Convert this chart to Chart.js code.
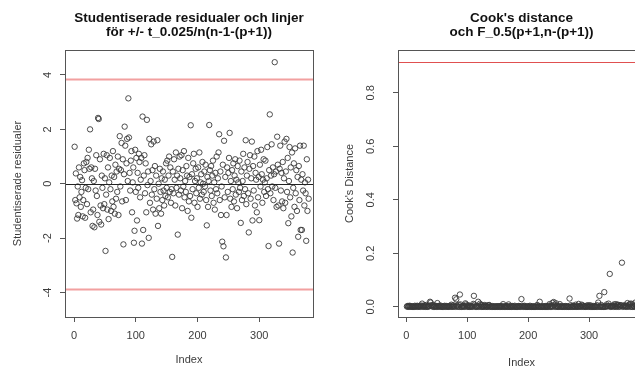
<!DOCTYPE html>
<html>
<head>
<meta charset="utf-8">
<script src="https://cdn.jsdelivr.net/npm/chart.js@4.4.1/dist/chart.umd.min.js"></script>
<style>
  html, body { margin: 0; padding: 0; background: #fff; overflow: hidden; width: 635px; height: 376px; }
  .panel { position: absolute; top: 0; }
</style>
</head>
<body>
<canvas id="residChart" class="panel" style="left:0" width="320" height="376"></canvas>
<canvas id="cookChart" class="panel" style="left:320px" width="330" height="376"></canvas>
<script>
// Studentized residuals, index 1..380
const residuals = [
    1.36, -0.6, 0.38, -0.72, -1.28, -0.1, -1.15, 0.6, -0.5, 0.25,
    -0.85, -0.3, 0.13, -1.2, -0.6, 0.75, 0.5, -1.25, -0.15, 0.8,
    -0.75, 0.95, -0.2, 1.25, 0.55, 2.0, -1.05, 0.6, 0.2, -1.55,
    -0.95, 0.1, -1.6, 0.55, -0.25, 1.05, -0.45, -1.15, 2.42, 2.38,
    -1.4, 0.9, -0.8, -1.5, 0.3, -0.15, -0.9, 1.1, -0.75, 0.2,
    -2.47, -0.4, 1.05, -0.95, 0.6, -1.3, 0.05, 0.95, -0.2, -1.0,
    0.3, -0.65, 1.2, -0.85, 0.25, -1.1, 0.7, -0.55, 0.45, -0.3,
    1.0, -1.15, 0.55, 1.75, -0.1, 0.5, 1.5, -0.65, 0.9, -2.23,
    0.35, 2.1, 1.4, -0.6, 0.75, 1.65, 0.1, 3.14, 1.7, 0.4,
    -0.25, 0.85, 1.2, -1.05, 0.05, 0.6, -2.17, -1.73, 1.25, -0.3,
    0.95, -1.35, 0.4, -0.15, 1.1, 0.8, -0.5, 0.15, 0.95, -2.2,
    2.47, -1.7, 0.3, 1.05, -0.35, 0.75, -1.05, 2.35, -0.05, 0.45,
    -1.99, 1.65, -0.7, 0.1, 1.45, -0.4, 0.5, -0.95, 1.55, -0.2,
    0.65, -1.1, 0.3, -0.55, 1.6, -1.55, 0.0, -0.9, 0.55, -0.3,
    -1.1, 0.2, -0.6, 0.45, -0.25, -0.8, 0.15, -0.45, 0.75, -0.15,
    0.85, -0.5, 0.3, 1.0, -0.3, 0.6, -0.7, -0.2, -2.69, 0.45,
    -0.35, 0.9, 0.15, -0.8, 1.15, -0.15, 0.3, -1.87, 0.55, -0.4,
    1.0, 0.2, -0.25, 1.05, -0.9, 0.5, -0.1, 1.2, -0.5, 0.1,
    -0.3, 0.65, 0.3, -1.0, 0.95, -0.65, 0.25, -0.45, 2.15, -1.25,
    0.35, -0.2, 0.75, 1.1, -0.7, 0.1, 0.55, -0.35, 0.2, -0.85,
    0.6, -0.15, 1.15, -0.55, 0.05, 0.35, -0.4, 0.8, 0.0, -0.3,
    0.45, -0.1, 0.7, -0.6, -1.53, 0.25, -0.85, 0.1, 2.16, 0.5,
    -0.25, 0.65, -0.45, 0.3, 0.85, -0.7, 0.05, -0.95, 0.4, -0.2,
    1.0, -0.35, 0.2, 1.15, 1.82, -0.6, 0.45, -1.15, -0.1, -2.13,
    0.7, -2.3, 1.58, -0.5, 0.25, -2.71, -1.15, 0.6, -0.3, 0.4,
    0.95, 1.87, -0.55, 0.1, -0.85, 0.5, -0.2, 0.75, -0.65, 0.3,
    0.9, -0.4, 0.15, -0.9, 0.65, 0.05, -0.3, 0.85, -0.15, -1.44,
    0.45, -0.6, 0.1, 1.1, -0.45, 0.6, -0.2, 1.6, -0.75, 0.3,
    0.8, -0.35, -1.79, 0.55, 1.05, -0.55, 0.2, 1.55, -1.35, 0.65,
    -0.25, 1.0, -0.8, 0.4, 0.15, -1.05, 1.2, -0.5, 0.25, -1.34,
    0.7, -0.1, 1.25, 0.35, -0.7, 0.15, 0.9, -0.3, 0.05, 0.85,
    -0.45, 0.2, 1.35, -0.2, -2.29, 0.5, 2.55, -0.35, 0.3, 1.45,
    -0.1, 0.6, -0.6, 0.35, 4.47, -0.15, 0.45, -0.85, 1.73, 0.7,
    -0.8, -2.2, 0.55, 1.4, -0.25, 0.4, -0.65, 0.8, -0.9, 0.2,
    1.55, -0.7, 0.45, 1.65, -0.3, 0.95, -1.45, 0.1, 1.35, -0.5,
    0.6, -1.2, 1.15, -2.53, -0.15, 0.75, -0.85, 1.3, -0.35, 0.5,
    -1.0, 0.25, -1.95, 0.65, -0.6, 1.4, -1.7, 0.15, -1.7, 0.35,
    -0.25, 1.4, -0.8, 0.05, -0.35, -2.1, 0.9, -1.0, 0.15, -0.55
];

// Cook's distance, index 1..380
const cooksD = [
    .001, .003, .000, .002, .004, .000, .003, .001, .001, .000,
    .002, .000, .000, .004, .001, .002, .001, .004, .000, .002,
    .001, .003, .000, .005, .001, .012, .003, .001, .000, .006,
    .003, .000, .007, .001, .000, .004, .001, .004, .019, .016,
    .006, .002, .002, .007, .000, .000, .002, .004, .002, .000,
    .014, .000, .003, .003, .001, .005, .000, .002, .000, .002,
    .000, .001, .004, .002, .000, .003, .001, .001, .001, .000,
    .002, .004, .001, .008, .000, .001, .006, .001, .002, .034,
    .000, .028, .005, .001, .001, .008, .000, .046, .009, .000,
    .000, .002, .004, .003, .000, .001, .013, .009, .004, .000,
    .002, .006, .000, .000, .003, .002, .001, .000, .002, .011,
    .041, .008, .000, .003, .000, .001, .003, .019, .000, .001,
    .012, .007, .001, .000, .006, .000, .001, .003, .007, .000,
    .001, .003, .000, .001, .006, .007, .000, .002, .001, .000,
    .003, .000, .001, .001, .000, .002, .000, .001, .002, .000,
    .002, .001, .000, .003, .000, .001, .002, .000, .010, .001,
    .000, .002, .000, .002, .003, .000, .000, .009, .001, .000,
    .003, .000, .000, .003, .002, .001, .000, .004, .001, .000,
    .000, .001, .000, .003, .003, .001, .000, .001, .029, .004,
    .001, .000, .002, .004, .001, .000, .001, .000, .000, .002,
    .001, .000, .004, .001, .000, .000, .001, .002, .000, .000,
    .001, .000, .001, .001, .007, .000, .002, .000, .019, .001,
    .000, .001, .001, .000, .002, .001, .000, .003, .000, .000,
    .003, .000, .000, .004, .010, .001, .000, .004, .000, .015,
    .002, .018, .008, .001, .000, .013, .004, .001, .000, .000,
    .003, .010, .001, .000, .002, .001, .000, .002, .001, .000,
    .003, .001, .000, .002, .001, .000, .000, .031, .000, .006,
    .001, .001, .000, .004, .001, .001, .000, .008, .002, .000,
    .002, .000, .011, .001, .003, .001, .000, .008, .005, .001,
    .000, .003, .002, .000, .000, .004, .005, .001, .000, .006,
    .002, .000, .005, .000, .001, .000, .003, .000, .000, .003,
    .001, .000, .006, .000, .016, .001, .041, .000, .001, .007,
    .000, .001, .001, .000, .055, .000, .001, .002, .009, .002,
    .002, .012, .003, .123, .000, .001, .002, .003, .004, .000,
    .009, .002, .001, .010, .000, .004, .008, .000, .007, .001,
    .002, .006, .005, .165, .000, .002, .003, .006, .001, .001,
    .004, .000, .014, .002, .001, .008, .011, .000, .012, .001,
    .000, .009, .003, .000, .001, .016, .004, .005, .000, .001
];

const xTicks = [0, 100, 200, 300];
const residTicks = [-4, -2, 0, 2, 4];
const cookTicks = [0, 0.2, 0.4, 0.6, 0.8];
const tLimit = 3.86;      // +/- t_0.025/n(n-1-(p+1))
const fLimit = 0.915;     // F_0.5(p+1, n-(p+1))

const FONT = "'Liberation Sans', Arial, sans-serif";
const INK = '#3c3c3c';

// horizontal reference lines + R style box round the plot region
const rFrame = {
    id: 'rFrame',
    afterDatasetsDraw(chart, args, opts) {
        const { ctx, chartArea: a, scales: { y } } = chart;
        ctx.save();
        (opts.lines || []).forEach(l => {
            const py = Math.round(y.getPixelForValue(l.value)) + 0.5;
            ctx.strokeStyle = l.color;
            ctx.lineWidth = l.width;
            ctx.beginPath();
            ctx.moveTo(a.left, py);
            ctx.lineTo(a.right, py);
            ctx.stroke();
        });
        ctx.strokeStyle = '#555';
        ctx.lineWidth = 1;
        ctx.strokeRect(Math.round(a.left) + 0.5, Math.round(a.top) + 0.5,
            Math.round(a.right - a.left), Math.round(a.bottom - a.top));
        ctx.restore();
    }
};

const axisSet = (cfg) => ({
    x: {
        type: 'linear', min: cfg.xMin, max: cfg.xMax,
        afterBuildTicks: s => { s.ticks = xTicks.map(v => ({ value: v })); },
        afterFit: s => { s.height = 59; },
        grid: { drawOnChartArea: false, drawTicks: true, tickLength: 5, color: '#555' },
        border: { display: false },
        ticks: { color: INK, font: { family: FONT, size: 11 }, padding: 7, autoSkip: false, maxRotation: 0 },
        title: { display: true, text: 'Index', color: INK, font: { family: FONT, size: 11 }, padding: { bottom: cfg.xTitlePad } }
    },
    y: {
        type: 'linear', min: cfg.yMin, max: cfg.yMax,
        afterBuildTicks: s => { s.ticks = cfg.yTicks.map(v => ({ value: v })); },
        afterFit: s => { s.width = cfg.yWidth; },
        grid: { drawOnChartArea: false, drawTicks: true, tickLength: 5, color: '#555' },
        border: { display: false },
        ticks: {
            color: INK, font: { family: FONT, size: 11 }, padding: cfg.yLabelPad,
            minRotation: 90, maxRotation: 90, crossAlign: 'center', autoSkip: false,
            callback: cfg.yFmt
        },
        title: { display: true, text: cfg.yTitle, color: INK, font: { family: FONT, size: 11 }, padding: { top: cfg.yTitlePad } }
    }
});

const baseOptions = (titleLines, padRight, axes, lines) => ({
    responsive: false,
    animation: false,
    devicePixelRatio: 1,
    layout: { padding: { left: 0, right: padRight, top: 0, bottom: 0 } },
    plugins: {
        legend: { display: false },
        tooltip: { enabled: false },
        title: {
            display: true, fullSize: false, text: titleLines, color: '#111',
            font: { family: FONT, size: 13.5, weight: 'bold', lineHeight: 1.05 },
            padding: { top: 11, bottom: 10.6 }
        },
        rFrame: { lines }
    },
    scales: axes
});

const pointStyle = {
    pointStyle: 'circle', pointRadius: 2.7, pointBorderWidth: 0.9,
    pointBorderColor: '#3a3a3a', pointBackgroundColor: 'rgba(0,0,0,0)', showLine: false
};

new Chart(document.getElementById('residChart'), {
    type: 'scatter',
    data: { datasets: [{ data: residuals.map((v, i) => ({ x: i + 1, y: v })), ...pointStyle }] },
    options: baseOptions(
        ['Studentiserade residualer och linjer', 'för +/- t_0.025/n(n-1-(p+1))'], 7,
        axisSet({
            xMin: -14.6, xMax: 387, yMin: -4.9, yMax: 4.92, yTicks: residTicks, yWidth: 65,
            yLabelPad: 7, yTitlePad: 11, xTitlePad: 9, yTitle: 'Studentiserade residualer',
            yFmt: v => String(v)
        }),
        [
            { value: tLimit, color: '#f2a0a0', width: 2 },
            { value: -tLimit, color: '#f2a0a0', width: 2 },
            { value: 0, color: '#222', width: 1 }
        ]
    ),
    plugins: [rFrame]
});

new Chart(document.getElementById('cookChart'), {
    type: 'scatter',
    data: { datasets: [{ data: cooksD.map((v, i) => ({ x: i + 1, y: v })), ...pointStyle }] },
    options: baseOptions(
        ["Cook's distance", 'och F_0.5(p+1,n-(p+1))'], 4,
        axisSet({
            xMin: -13.6, xMax: 392, yMin: -0.038, yMax: 0.96, yTicks: cookTicks, yWidth: 78,
            yLabelPad: 14, yTitlePad: 23, xTitlePad: 6, yTitle: "Cook's Distance",
            yFmt: v => v.toFixed(1)
        }),
        [{ value: fLimit, color: '#e05050', width: 1 }]
    ),
    plugins: [rFrame]
});
</script>
</body>
</html>
